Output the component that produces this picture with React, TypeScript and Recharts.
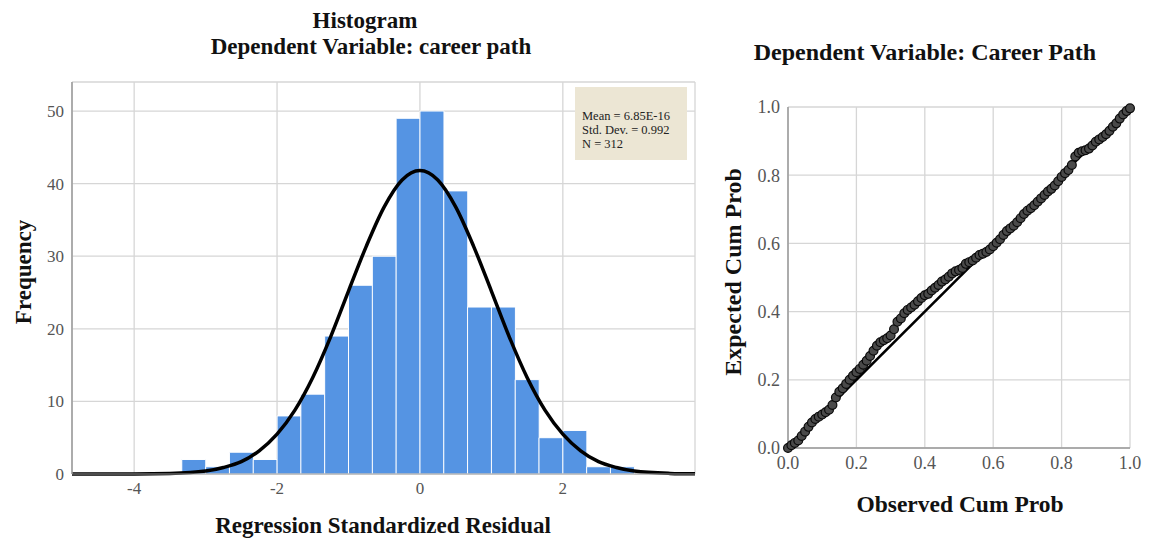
import React from "react";
import { Bar, CartesianGrid, ComposedChart, Line, ReferenceLine, Scatter, ScatterChart, XAxis, YAxis } from "recharts";

// histogram bins (centres of the 1/3-wide bins) and counts
const binMids = [-3.167, -2.833, -2.5, -2.167, -1.833, -1.5, -1.167, -0.833, -0.5, -0.167, 0.167, 0.5, 0.833, 1.167, 1.5, 1.833, 2.167, 2.5, 2.833];
const binCounts = [2, 1, 3, 2, 8, 11, 19, 26, 30, 49, 50, 39, 23, 23, 13, 5, 6, 1, 1];

// normal curve
const curveX = [-4.87, -4, -3.5, -3, -2.75, -2.5, -2.25, -2, -1.75, -1.5, -1.25, -1, -0.75, -0.5, -0.25, 0, 0.25, 0.5, 0.75, 1, 1.25, 1.5, 1.75, 2, 2.25, 2.5, 2.75, 3, 3.5, 3.85];
const curveY = [0, 0.01, 0.08, 0.4, 0.9, 1.7, 3.2, 5.5, 8.8, 13.3, 18.9, 25.2, 31.4, 36.8, 40.5, 41.8, 40.5, 36.8, 31.4, 25.2, 18.9, 13.3, 8.8, 5.5, 3.2, 1.7, 0.9, 0.4, 0.08, 0.02];

const histXTicks = [-4, -2, 0, 2];
const histYTicks = [0, 10, 20, 30, 40, 50];
const statsLines = ["Mean = 6.85E-16", "Std. Dev. = 0.992", "N = 312"];

// P-P plot points
const observedCumProb = [
  0, 0.01, 0.02, 0.03, 0.04, 0.05, 0.06, 0.07, 0.08, 0.09, 0.1, 0.11, 0.12, 0.13, 0.14, 0.15, 0.16, 0.17, 0.18, 0.19,
  0.2, 0.21, 0.22, 0.23, 0.24, 0.25, 0.26, 0.27, 0.28, 0.29, 0.3, 0.31, 0.32, 0.33, 0.34, 0.35, 0.36, 0.37, 0.38, 0.39,
  0.4, 0.41, 0.42, 0.43, 0.44, 0.45, 0.46, 0.47, 0.48, 0.49, 0.5, 0.51, 0.52, 0.53, 0.54, 0.55, 0.56, 0.57, 0.58, 0.59,
  0.6, 0.61, 0.62, 0.63, 0.64, 0.65, 0.66, 0.67, 0.68, 0.69, 0.7, 0.71, 0.72, 0.73, 0.74, 0.75, 0.76, 0.77, 0.78, 0.79,
  0.8, 0.81, 0.82, 0.83, 0.84, 0.85, 0.86, 0.87, 0.88, 0.89, 0.9, 0.91, 0.92, 0.93, 0.94, 0.95, 0.96, 0.97, 0.98, 0.99, 1,
];
const expectedCumProb = [
  0, 0.008, 0.015, 0.022, 0.035, 0.048, 0.062, 0.075, 0.085, 0.092, 0.098, 0.105, 0.112, 0.126, 0.148, 0.165, 0.175, 0.188, 0.2, 0.212,
  0.222, 0.232, 0.244, 0.256, 0.27, 0.285, 0.3, 0.31, 0.316, 0.322, 0.33, 0.348, 0.37, 0.38, 0.395, 0.405, 0.412, 0.42, 0.43, 0.44,
  0.448, 0.452, 0.462, 0.47, 0.478, 0.488, 0.494, 0.502, 0.512, 0.518, 0.522, 0.528, 0.54, 0.545, 0.55, 0.558, 0.566, 0.57, 0.575, 0.582,
  0.592, 0.602, 0.612, 0.625, 0.636, 0.644, 0.652, 0.662, 0.674, 0.686, 0.696, 0.703, 0.712, 0.722, 0.732, 0.742, 0.752, 0.76, 0.77, 0.782,
  0.795, 0.806, 0.815, 0.83, 0.855, 0.866, 0.87, 0.873, 0.878, 0.887, 0.898, 0.905, 0.912, 0.92, 0.93, 0.942, 0.952, 0.966, 0.978, 0.988, 0.996,
];
const ppTicks = [0, 0.2, 0.4, 0.6, 0.8, 1];

const serif = '"Liberation Serif", "Times New Roman", serif';
const gridColor = "#d6d6d6";
const axisColor = "#9a9a9a";
const tickStyle = { fill: "#555", fontSize: 17, fontFamily: serif };
const ppTickStyle = { fill: "#555", fontSize: 18, fontFamily: serif };

const histData = binMids.map((mid, i) => ({ mid, count: binCounts[i] }));
const curveData = curveX.map((x, i) => ({ x, y: curveY[i] }));
const ppData = observedCumProb.map((obs, i) => ({ obs, exp: expectedCumProb[i] }));

function Text({ x, y, size, vertical, children }: { x: number; y: number; size: number; vertical?: boolean; children: React.ReactNode }) {
  return (
    <div
      style={{
        position: "absolute",
        left: x,
        top: y,
        transform: `translate(-50%, -50%)${vertical ? " rotate(-90deg)" : ""}`,
        whiteSpace: "nowrap",
        fontFamily: serif,
        fontWeight: "bold",
        fontSize: size,
        color: "#111",
        lineHeight: 1,
      }}
    >
      {children}
    </div>
  );
}

const PPDot = (props: any) => (
  <circle cx={props.cx} cy={props.cy} r={4.4} fill="#4a4a4a" stroke="#0a0a0a" strokeWidth={1.2} />
);

export default function App() {
  return (
    <div style={{ position: "absolute", left: 0, top: 0, width: 1149, height: 541, background: "#fff", overflow: "hidden" }}>
      <div style={{ position: "absolute", left: 0, top: 0 }}>
        <ComposedChart width={720} height={541} data={histData} margin={{ top: 82, right: 25, bottom: 37, left: 0 }} barCategoryGap={0} barGap={0}>
          <CartesianGrid xAxisId="bins" stroke={gridColor} strokeWidth={1.3} />
          <XAxis
            xAxisId="bins"
            type="number"
            dataKey="mid"
            domain={[-4.87, 3.85]}
            ticks={histXTicks}
            allowDataOverflow
            height={30}
            stroke={axisColor}
            tickLine={false}
            tick={tickStyle}
          />
          <XAxis xAxisId="curve" type="number" dataKey="x" domain={[-4.87, 3.85]} allowDataOverflow hide />
          <YAxis
            type="number"
            domain={[0, 54]}
            ticks={histYTicks}
            width={72}
            stroke={axisColor}
            strokeWidth={1.5}
            tickLine={false}
            tick={tickStyle}
          />
          <Bar xAxisId="bins" dataKey="count" fill="#5594e3" stroke="#ffffff" strokeWidth={1} isAnimationActive={false} />
          <Line
            xAxisId="curve"
            data={curveData}
            dataKey="y"
            type="monotone"
            stroke="#000"
            strokeWidth={3.5}
            dot={false}
            activeDot={false}
            isAnimationActive={false}
          />
        </ComposedChart>
      </div>

      <div
        style={{
          position: "absolute",
          left: 575,
          top: 87,
          width: 112,
          height: 73,
          background: "#ece6d4",
          fontFamily: serif,
          fontSize: 12.5,
          lineHeight: "14px",
          color: "#222",
          padding: "22px 0 0 7px",
          boxSizing: "border-box",
        }}
      >
        {statsLines.map((s) => (
          <div key={s}>{s}</div>
        ))}
      </div>

      <Text x={365} y={20} size={23}>Histogram</Text>
      <Text x={371} y={46} size={23}>Dependent Variable: career path</Text>
      <Text x={383} y={525} size={23}>Regression Standardized Residual</Text>
      <Text x={23} y={272} size={23} vertical>Frequency</Text>

      <div style={{ position: "absolute", left: 720, top: 0 }}>
        <ScatterChart width={429} height={541} margin={{ top: 107, right: 19, bottom: 63, left: 28 }}>
          <CartesianGrid stroke={gridColor} strokeWidth={1.3} />
          <XAxis
            type="number"
            dataKey="obs"
            domain={[0, 1]}
            ticks={ppTicks}
            tickFormatter={(v: number) => v.toFixed(1)}
            height={30}
            stroke={axisColor}
            strokeWidth={1.5}
            tickLine={false}
            tick={ppTickStyle}
          />
          <YAxis
            type="number"
            dataKey="exp"
            domain={[0, 1]}
            ticks={ppTicks}
            tickFormatter={(v: number) => v.toFixed(1)}
            width={40}
            stroke={axisColor}
            strokeWidth={1.5}
            tickLine={false}
            tick={ppTickStyle}
          />
          <ReferenceLine segment={[{ x: 0, y: 0 }, { x: 1, y: 1 }]} stroke="#000" strokeWidth={2.5} />
          <Scatter data={ppData} shape={PPDot} isAnimationActive={false} />
        </ScatterChart>
      </div>

      <Text x={925} y={52} size={24}>Dependent Variable: Career Path</Text>
      <Text x={960} y={505} size={23.5}>Observed Cum Prob</Text>
      <Text x={733} y={272} size={24} vertical>Expected Cum Prob</Text>
    </div>
  );
}
